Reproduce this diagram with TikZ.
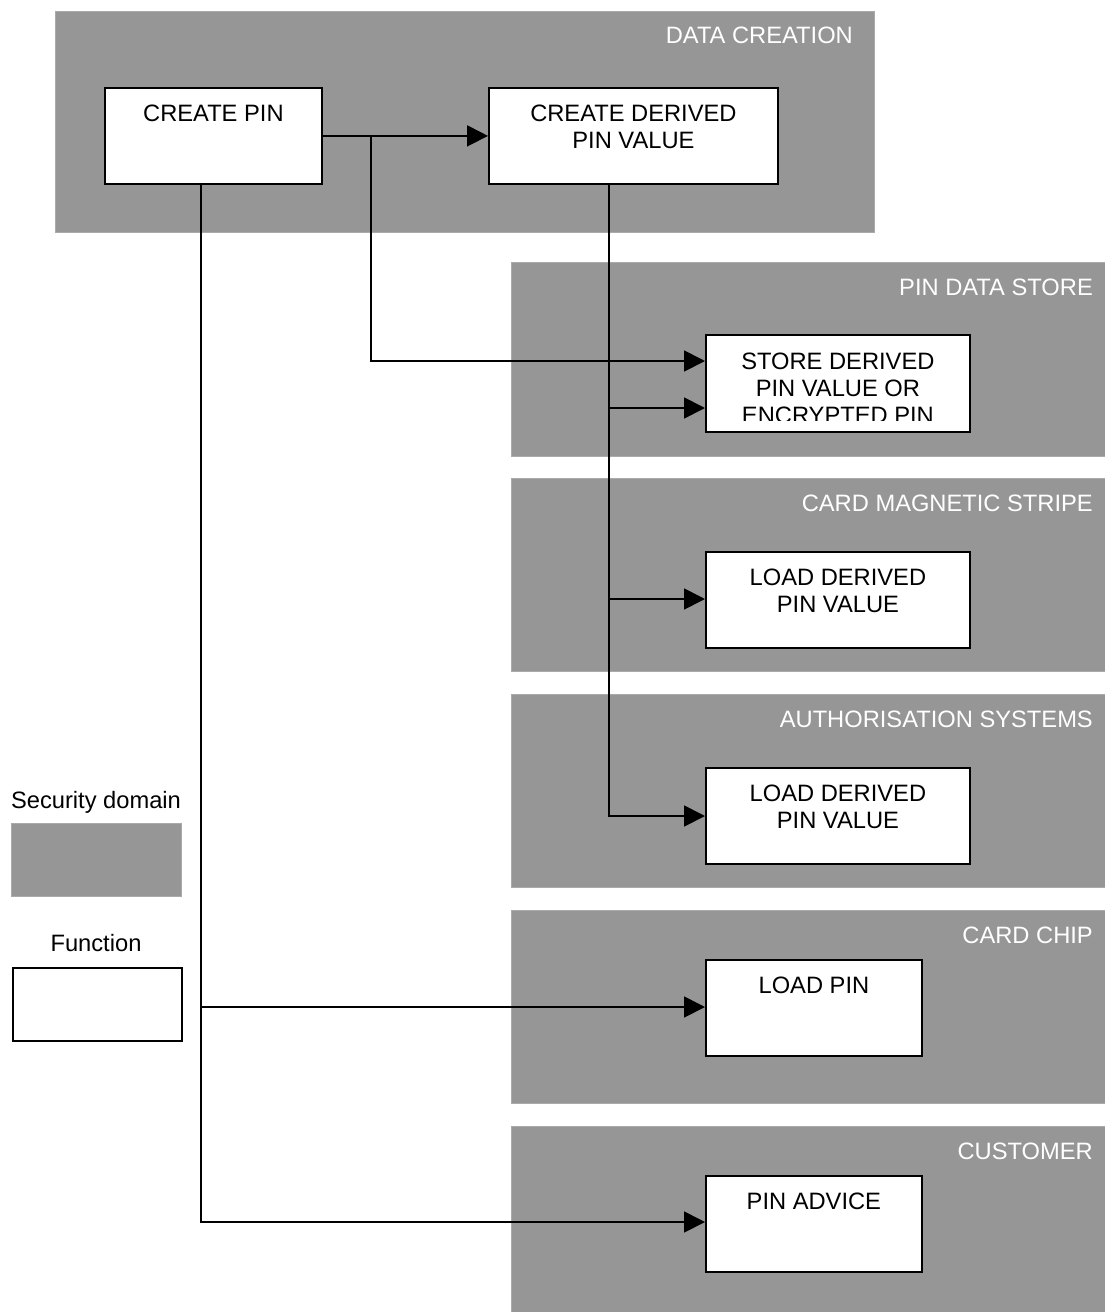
\documentclass[tikz,border=0pt]{standalone}
\usepackage{fontspec}
\setmainfont{Liberation Sans}
\usetikzlibrary{arrows.meta}
\definecolor{domgray}{RGB}{150,150,150}
\definecolor{domedge}{RGB}{170,170,170}
\tikzset{
  dom/.style={fill=domgray, draw=domedge, line width=0.8pt, anchor=north west, inner sep=0pt},
  fn/.style={fill=white, draw=black, line width=1.8pt, anchor=north west, inner sep=0pt},
  ftext/.style={anchor=north, inner sep=0pt, align=center, text=black,
    font=\fontsize{23.7}{27}\selectfont},
  dlab/.style={anchor=base east, inner sep=0pt, text=white,
    font=\fontsize{23.7}{27}\selectfont},
  legtext/.style={anchor=base, inner sep=0pt, text=black,
    font=\fontsize{23.7}{27}\selectfont},
  ln/.style={draw=black, line width=1.8pt},
  arr/.style={ln, -{Triangle[length=21pt,width=21pt]}},
}
\begin{document}
\begin{tikzpicture}[x=1pt,y=-1pt]
\useasboundingbox (0,0) rectangle (1104,1312);
\fill[white] (0,0) rectangle (1104,1312);

% security domains
\node[dom, minimum width=819pt, minimum height=221pt] (dc) at (55,11) {};
\node[dom, minimum width=594pt, minimum height=194pt] (pds) at (511,262) {};
\node[dom, minimum width=594pt, minimum height=193pt] (cms) at (511,478) {};
\node[dom, minimum width=594pt, minimum height=193pt] (aus) at (511,694) {};
\node[dom, minimum width=594pt, minimum height=193pt] (cch) at (511,910) {};
\node[dom, minimum width=594pt, minimum height=190pt] (cus) at (511,1126) {};

\node[dlab] (dcl) at (853,43) {DATA CREATION};
\node[dlab] (pdsl) at (1093,295) {PIN DATA STORE};
\node[dlab] (cmsl) at (1093,511) {CARD MAGNETIC STRIPE};
\node[dlab] (ausl) at (1093,727) {AUTHORISATION SYSTEMS};
\node[dlab] (cchl) at (1093,943) {CARD CHIP};
\node[dlab] (cusl) at (1093,1159) {CUSTOMER};

% functions
\node[fn, minimum width=217pt, minimum height=96pt] (cp) at (104,87) {};
\node[ftext] (cpt) at ([yshift=-17.5pt]cp.north) {CREATE PIN};
\node[fn, minimum width=289pt, minimum height=96pt] (cdv) at (488,87) {};
\node[ftext] (cdvt) at ([yshift=-17.5pt]cdv.north) {CREATE DERIVED\\PIN VALUE};
\node[fn, minimum width=264pt, minimum height=97pt] (st) at (705,334) {};
\begin{scope}
  \clip (705,334) rectangle (969,420);
  \node[ftext] (stt) at ([yshift=-18.5pt]st.north) {STORE DERIVED\\PIN VALUE OR\\ENCRYPTED PIN};
\end{scope}
\node[fn, minimum width=264pt, minimum height=96pt] (lm) at (705,551) {};
\node[ftext] (lmt) at ([yshift=-17.5pt]lm.north) {LOAD DERIVED\\PIN VALUE};
\node[fn, minimum width=264pt, minimum height=96pt] (la) at (705,767) {};
\node[ftext] (lat) at ([yshift=-17.5pt]la.north) {LOAD DERIVED\\PIN VALUE};
\node[fn, minimum width=216pt, minimum height=96pt] (lp) at (705,959) {};
\node[ftext] (lpt) at ([yshift=-17.5pt]lp.north) {LOAD PIN};
\node[fn, minimum width=216pt, minimum height=96pt] (pa) at (705,1175) {};
\node[ftext] (pat) at ([yshift=-17.5pt]pa.north) {PIN ADVICE};

% legend
\node[legtext] (lg1) at (96,808) {Security domain};
\node[dom, minimum width=170pt, minimum height=73pt] (lgd) at (11,823) {};
\node[legtext] (lg2) at (96,951) {Function};
\node[fn, line width=1.5pt, minimum width=169pt, minimum height=73pt] (lgf) at (12,967) {};

% connector points
\coordinate (j1) at (371,135);
\coordinate (s1) at (705,361);
\coordinate (s2) at (705,408);
\coordinate (m1) at (705,599);
\coordinate (a1) at (705,816);
\coordinate (c1) at (705,1007);
\coordinate (c2) at (705,1222);
\coordinate (t1) at (609,183);
\coordinate (p1) at (201,183);

% connectors
\draw[arr] (cp.east) -- (cdv.west);
\draw[arr] (j1) |- (s1);
\draw[arr] (t1) |- (a1);
\draw[arr] (t1 |- s2) -- (s2);
\draw[arr] (t1 |- m1) -- (m1);
\draw[arr] (p1) |- (c2);
\draw[arr] (p1 |- c1) -- (c1);
\end{tikzpicture}
\end{document}
